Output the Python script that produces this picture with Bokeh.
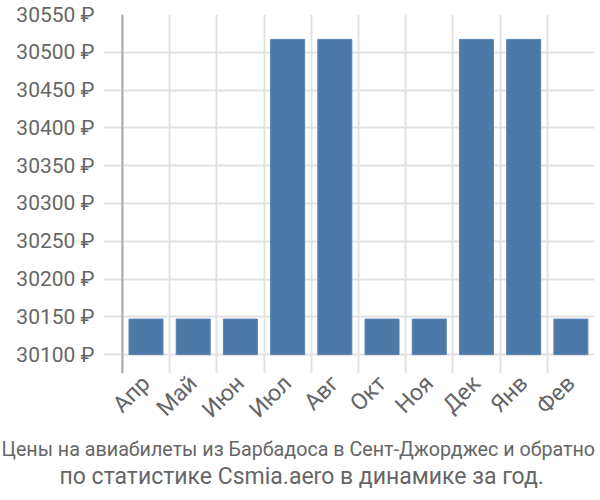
from bokeh.plotting import figure
from bokeh.models import FixedTicker, Span, Title, Range1d
from bokeh.embed import file_html
from bokeh.resources import INLINE
import math

months = ["Апр", "Май", "Июн", "Июл", "Авг", "Окт", "Ноя", "Дек", "Янв", "Фев"]
prices = [30147, 30147, 30147, 30517, 30517, 30147, 30147, 30517, 30517, 30147]
y_ticks = [30100, 30150, 30200, 30250, 30300, 30350, 30400, 30450, 30500, 30550]
title_lines = ["Цены на авиабилеты из Барбадоса в Сент-Джорджес и обратно",
               "по статистике Csmia.aero в динамике за год."]
baseline = 30100

FONT = "Roboto"
TXT = "#666666"
GRID = "#e2e2e2"

p = figure(width=600, height=500, output_backend="svg", toolbar_location=None,
           x_range=Range1d(-0.4, 10.0), y_range=Range1d(30075, 30550),
           min_border_left=103, min_border_right=6, min_border_top=14,
           min_border_bottom=127)
p.outline_line_color = None
p.background_fill_color = "white"

centers = [i + 0.5 for i in range(len(months))]
p.vbar(x=centers, top=prices, bottom=baseline, width=0.72,
       fill_color="#4C79A8", line_color="#5a84b0", line_width=1)

# grids
p.xgrid.ticker = FixedTicker(ticks=list(range(len(months) + 1)))
p.ygrid.ticker = FixedTicker(ticks=y_ticks)
for g in (p.xgrid, p.ygrid):
    g.grid_line_color = GRID
    g.grid_line_width = 2
p.xgrid.level = "underlay"
p.ygrid.level = "underlay"

# y axis line
p.add_layout(Span(location=0, dimension="height", line_color="#aaaaaa", line_width=2))

# x axis
xa = p.xaxis[0]
xa.ticker = FixedTicker(ticks=centers)
xa.major_label_overrides = {c: m for c, m in zip(centers, months)}
xa.major_label_orientation = math.pi / 4
xa.axis_line_color = None
xa.major_tick_line_color = None
xa.minor_tick_line_color = None
xa.major_label_standoff = 0
xa.major_label_text_font = FONT
xa.major_label_text_font_size = "23px"
xa.major_label_text_color = TXT

# y axis
ya = p.yaxis[0]
ya.ticker = FixedTicker(ticks=y_ticks)
ya.major_label_overrides = {t: f"{t} ₽" for t in y_ticks}
ya.axis_line_color = None
ya.major_tick_line_color = None
ya.minor_tick_line_color = None
ya.major_label_standoff = 3
ya.major_label_text_font = FONT
ya.major_label_text_font_size = "21px"
ya.major_label_text_color = TXT

# titles are left-aligned to the frame (which starts at x=103), shifted left
for line, fs, off in zip(title_lines, ["19.7px", "23px"], [-102, -44]):
    p.add_layout(Title(text=line, align="left", text_font=FONT,
                       text_font_size=fs, text_color=TXT, text_font_style="normal",
                       standoff=0, offset=off), "below")

open("out.html", "w").write(file_html(p, INLINE))
